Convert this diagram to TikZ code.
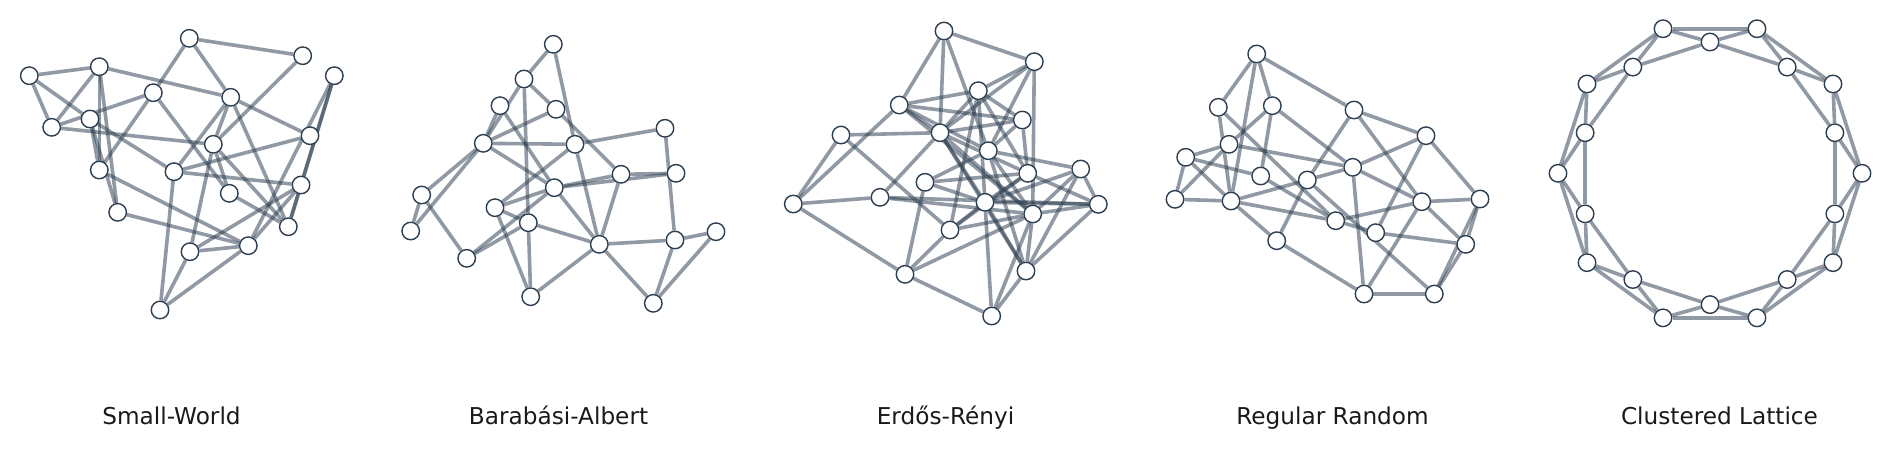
\documentclass[tikz,border=0pt]{standalone}
\usepackage{fontspec}
\setmainfont{DejaVu Sans}
\usetikzlibrary{backgrounds}
\definecolor{edgec}{HTML}{2C3E50}
\begin{document}
\begin{tikzpicture}[x=1pt,y=-1pt,
  vtx/.style={circle,draw=edgec,fill=white,line width=1.4pt,minimum size=17.5pt,inner sep=0pt},
  lnk/.style={draw=edgec,draw opacity=0.52,line width=3.6pt},
  ttl/.style={font=\fontsize{23.2}{28}\selectfont,anchor=base,text=black!90}]
\useasboundingbox (0,0) rectangle (1892,448);
% ---------- Small-World ----------
\node[vtx] (n1) at (189.3,38.3) {};
\node[vtx] (n2) at (302.7,55.7) {};
\node[vtx] (n3) at (334.3,75.7) {};
\node[vtx] (n4) at (29.3,75.7) {};
\node[vtx] (n5) at (99.3,66.7) {};
\node[vtx] (n6) at (153.3,92.7) {};
\node[vtx] (n7) at (230.7,97.3) {};
\node[vtx] (n8) at (51.7,127.3) {};
\node[vtx] (n9) at (90,119) {};
\node[vtx] (n10) at (310,135.7) {};
\node[vtx] (n11) at (213.3,144.3) {};
\node[vtx] (n12) at (99.3,170) {};
\node[vtx] (n13) at (174,171.7) {};
\node[vtx] (n14) at (301,185) {};
\node[vtx] (n15) at (229.3,193.3) {};
\node[vtx] (n16) at (117.7,212.3) {};
\node[vtx] (n17) at (288.3,226.7) {};
\node[vtx] (n18) at (248.3,245.7) {};
\node[vtx] (n19) at (190,251.7) {};
\node[vtx] (n20) at (160,310) {};
% ---------- Barabasi-Albert ----------
\node[vtx] (b1) at (553.3,44.3) {};
\node[vtx] (b2) at (524,79) {};
\node[vtx] (b3) at (500,105.7) {};
\node[vtx] (b4) at (556,109.3) {};
\node[vtx] (b5) at (665,128.3) {};
\node[vtx] (b6) at (483.3,143.3) {};
\node[vtx] (b7) at (575,144.3) {};
\node[vtx] (b8) at (621,174.3) {};
\node[vtx] (b9) at (676,173.3) {};
\node[vtx] (b10) at (554.3,187.7) {};
\node[vtx] (b11) at (421.7,195) {};
\node[vtx] (b12) at (495,207.7) {};
\node[vtx] (b13) at (528.3,222.7) {};
\node[vtx] (b14) at (410.7,231) {};
\node[vtx] (b15) at (716,231.7) {};
\node[vtx] (b16) at (599.3,244.3) {};
\node[vtx] (b17) at (675,240) {};
\node[vtx] (b18) at (466.7,258.3) {};
\node[vtx] (b19) at (530.7,296.7) {};
\node[vtx] (b20) at (653.3,303.3) {};
% ---------- Erdos-Renyi ----------
\node[vtx] (e1) at (944,31) {};
\node[vtx] (e2) at (1034.3,61.7) {};
\node[vtx] (e3) at (978.3,90.7) {};
\node[vtx] (e4) at (899.3,105) {};
\node[vtx] (e5) at (1022.3,120) {};
\node[vtx] (e6) at (841,135) {};
\node[vtx] (e7) at (940,132.7) {};
\node[vtx] (e8) at (988.3,150.7) {};
\node[vtx] (e9) at (1027.7,173.3) {};
\node[vtx] (e10) at (1080.7,169) {};
\node[vtx] (e11) at (925,182.3) {};
\node[vtx] (e12) at (880,197.3) {};
\node[vtx] (e13) at (793.3,204) {};
\node[vtx] (e14) at (985,202.3) {};
\node[vtx] (e15) at (1098.3,204.3) {};
\node[vtx] (e16) at (1032.7,214) {};
\node[vtx] (e17) at (950,230) {};
\node[vtx] (e18) at (905,274.3) {};
\node[vtx] (e19) at (1026,271) {};
\node[vtx] (e20) at (991.7,316) {};
% ---------- Regular Random ----------
\node[vtx] (r1) at (1256.7,54) {};
\node[vtx] (r2) at (1218.3,107.3) {};
\node[vtx] (r3) at (1272.3,105.7) {};
\node[vtx] (r4) at (1354,110) {};
\node[vtx] (r5) at (1426,135.7) {};
\node[vtx] (r6) at (1229,144.3) {};
\node[vtx] (r7) at (1185.7,157.3) {};
\node[vtx] (r8) at (1352.7,167.3) {};
\node[vtx] (r9) at (1260.7,176) {};
\node[vtx] (r10) at (1307.3,180) {};
\node[vtx] (r11) at (1175,199.3) {};
\node[vtx] (r12) at (1231,201) {};
\node[vtx] (r13) at (1421.7,201.7) {};
\node[vtx] (r14) at (1480,199) {};
\node[vtx] (r15) at (1335.7,220.7) {};
\node[vtx] (r16) at (1375.7,232.7) {};
\node[vtx] (r17) at (1276.7,240.7) {};
\node[vtx] (r18) at (1465.7,244.3) {};
\node[vtx] (r19) at (1364,294) {};
\node[vtx] (r20) at (1434.3,294) {};
% ---------- Clustered Lattice ----------
\foreach \k in {0,...,19} {
  \pgfmathsetmacro\rr{mod(\k,2)==0 ? 152 : 131.3}
  \node[vtx] (c\k) at ({1710+\rr*cos(18*\k)},{173.3-\rr*sin(18*\k)}) {};
}
% ---------- edges ----------
\begin{scope}[on background layer]
\foreach \a/\b in {n1/n2,n1/n6,n1/n7,n2/n11,n3/n14,n3/n17,n3/n18,n4/n5,n4/n8,n4/n9,
  n5/n8,n5/n7,n5/n12,n5/n16,n8/n6,n8/n11,n9/n13,n9/n12,n9/n16,n6/n12,n6/n15,
  n7/n10,n7/n13,n7/n11,n7/n17,n10/n13,n11/n17,n11/n19,n11/n15,n13/n14,n13/n20,
  n14/n19,n14/n17,n14/n18,n15/n17,n12/n18,n16/n18,n19/n18,n19/n20,n18/n20}
  \draw[lnk] (\a) -- (\b);
\foreach \a/\b in {b1/b2,b1/b7,b2/b4,b2/b6,b2/b13,b3/b6,b3/b10,b4/b6,b4/b8,b6/b7,
  b6/b10,b6/b11,b6/b14,b7/b5,b7/b12,b7/b16,b10/b8,b10/b9,b8/b9,b8/b16,b10/b16,
  b10/b18,b10/b12,b11/b14,b11/b18,b12/b13,b12/b19,b13/b18,b13/b19,b13/b16,
  b16/b19,b16/b17,b16/b20,b5/b17,b17/b15,b17/b20,b15/b20}
  \draw[lnk] (\a) -- (\b);
\foreach \a/\b in {e1/e2,e1/e4,e1/e7,e1/e8,e2/e3,e2/e7,e2/e8,e2/e16,
  e3/e4,e3/e5,e3/e14,e3/e9,e3/e17,e3/e7,e4/e5,e4/e7,e4/e8,e4/e16,e4/e13,
  e5/e7,e5/e9,e5/e8,e6/e7,e6/e13,e6/e17,e7/e12,e7/e9,e7/e16,e7/e19,e7/e14,
  e8/e10,e8/e11,e8/e19,e8/e16,e9/e11,e9/e15,e9/e14,e10/e14,e10/e15,e10/e16,e10/e19,
  e11/e18,e11/e14,e12/e13,e12/e15,e12/e16,e14/e17,e14/e15,e14/e20,e14/e19,
  e15/e16,e15/e19,e16/e17,e16/e18,e16/e19,e16/e20,e17/e18,e17/e9,
  e18/e20,e19/e20,e13/e18}
  \draw[lnk] (\a) -- (\b);
\foreach \a/\b in {r1/r2,r1/r3,r1/r4,r1/r12,r2/r12,r2/r15,r3/r6,r3/r9,r3/r8,
  r6/r11,r6/r7,r6/r8,r7/r9,r7/r11,r7/r12,r11/r12,r12/r10,r12/r15,r12/r17,
  r4/r5,r4/r10,r4/r13,r5/r8,r5/r14,r5/r16,r8/r10,r8/r13,r8/r19,r9/r15,
  r10/r17,r10/r20,r13/r14,r13/r18,r13/r19,r13/r15,r14/r18,r14/r20,
  r15/r16,r16/r18,r17/r19,r19/r20,r18/r20}
  \draw[lnk] (\a) -- (\b);
\foreach \k in {0,...,19} {
  \pgfmathtruncatemacro\ka{mod(\k+1,20)}
  \pgfmathtruncatemacro\kb{mod(\k+2,20)}
  \draw[lnk] (c\k) -- (c\ka);
  \draw[lnk] (c\k) -- (c\kb);
}
\end{scope}
% ---------- titles ----------
\node[ttl] (t1) at (171.5,424) {Small-World};
\node[ttl] (t2) at (558.5,424) {Barabási-Albert};
\node[ttl] (t3) at (945.5,424) {Erdős-Rényi};
\node[ttl] (t4) at (1332.5,424) {Regular Random};
\node[ttl] (t5) at (1719.5,424) {Clustered Lattice};
\end{tikzpicture}
\end{document}
